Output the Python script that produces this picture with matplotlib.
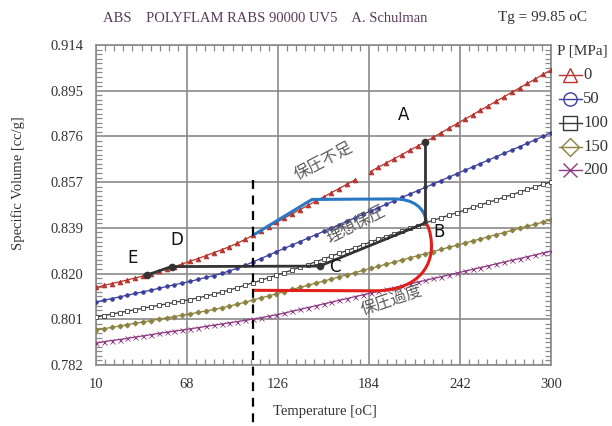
import numpy as np
import matplotlib
matplotlib.use("Agg")
import matplotlib.pyplot as plt
from matplotlib.path import Path
from matplotlib.patches import PathPatch
from matplotlib.lines import Line2D
from matplotlib.ticker import FixedLocator, AutoMinorLocator

# ---------------- data ----------------
temps = list(range(10, 301, 5))

v_p0 = [0.8140, 0.8148, 0.8156, 0.8163, 0.8171, 0.8179, 0.8187, 0.8196, 0.8206, 0.8216,
        0.8226, 0.8237, 0.8248, 0.8259, 0.8271, 0.8283, 0.8295, 0.8308, 0.8322, 0.8338,
        0.8355, 0.8373, 0.8391, 0.8408, 0.8426, 0.8443, 0.8461, 0.8478, 0.8496, 0.8513,
        0.8531, 0.8548, 0.8566, 0.8583, np.nan, 0.8618, 0.8636, 0.8653, 0.8671, 0.8688,
        0.8706, 0.8723, 0.8741, 0.8760, 0.8778, 0.8797, 0.8815, 0.8834, 0.8852, 0.8871,
        0.8889, 0.8908, 0.8926, 0.8945, 0.8963, 0.8982, 0.9000, 0.9019, 0.9037]
v_p50 = [0.8080, 0.8087, 0.8094, 0.8101, 0.8108, 0.8115, 0.8122, 0.8129, 0.8136, 0.8144,
         0.8151, 0.8158, 0.8165, 0.8173, 0.8181, 0.8189, 0.8198, 0.8208, 0.8219, 0.8231,
         0.8245, 0.8259, 0.8273, 0.8287, 0.8301, 0.8315, 0.8329, 0.8343, 0.8357, 0.8371,
         0.8385, 0.8399, 0.8413, 0.8427, 0.8441, 0.8455, 0.8469, 0.8483, 0.8497, 0.8511,
         0.8525, 0.8539, 0.8553, 0.8567, 0.8581, 0.8595, 0.8609, 0.8623, 0.8637, 0.8651,
         0.8665, 0.8679, 0.8693, 0.8707, 0.8721, 0.8735, 0.8749, 0.8763, 0.8779]
v_p100 = [0.8018, 0.8024, 0.8030, 0.8036, 0.8042, 0.8048, 0.8054, 0.8060, 0.8066, 0.8072,
          0.8078, 0.8084, 0.8090, 0.8097, 0.8104, 0.8112, 0.8120, 0.8129, 0.8139, 0.8149,
          0.8159, 0.8169, 0.8180, 0.8190, 0.8201, 0.8212, 0.8223, 0.8234, 0.8246, 0.8257,
          0.8269, 0.8281, 0.8292, 0.8304, 0.8316, 0.8327, 0.8339, 0.8350, 0.8362, 0.8373,
          0.8384, 0.8395, 0.8406, 0.8417, 0.8427, 0.8438, 0.8448, 0.8459, 0.8470, 0.8480,
          0.8491, 0.8501, 0.8512, 0.8522, 0.8533, 0.8544, 0.8554, 0.8565, 0.8575]
v_p150 = [0.7964, 0.7970, 0.7975, 0.7981, 0.7987, 0.7992, 0.7998, 0.8003, 0.8009, 0.8015,
          0.8020, 0.8026, 0.8031, 0.8037, 0.8043, 0.8049, 0.8056, 0.8063, 0.8071, 0.8079,
          0.8088, 0.8097, 0.8105, 0.8114, 0.8123, 0.8132, 0.8140, 0.8149, 0.8158, 0.8166,
          0.8175, 0.8184, 0.8192, 0.8201, 0.8210, 0.8219, 0.8227, 0.8236, 0.8245, 0.8253,
          0.8262, 0.8271, 0.8279, 0.8288, 0.8297, 0.8306, 0.8314, 0.8323, 0.8332, 0.8340,
          0.8349, 0.8358, 0.8366, 0.8375, 0.8384, 0.8393, 0.8401, 0.8410, 0.8419]
v_p200 = [0.7911, 0.7916, 0.7921, 0.7925, 0.7930, 0.7935, 0.7940, 0.7945, 0.7950, 0.7955,
          0.7960, 0.7964, 0.7969, 0.7974, 0.7979, 0.7984, 0.7989, 0.7994, 0.7999, 0.8004,
          0.8009, 0.8015, 0.8021, 0.8027, 0.8034, 0.8042, 0.8049, 0.8057, 0.8064, 0.8072,
          0.8079, 0.8087, 0.8094, 0.8102, 0.8109, 0.8117, 0.8124, 0.8132, 0.8139, 0.8147,
          0.8154, 0.8162, 0.8169, 0.8177, 0.8184, 0.8192, 0.8199, 0.8207, 0.8214, 0.8222,
          0.8229, 0.8237, 0.8244, 0.8252, 0.8259, 0.8267, 0.8274, 0.8282, 0.8289]

pressures = ["0", "50", "100", "150", "200"]
x_ticks = [10, 68, 126, 184, 242, 300]
y_tick_labels = ["0.782", "0.801", "0.820", "0.839", "0.857", "0.876", "0.895", "0.914"]
y_min, y_max = 0.782, 0.914

# process path (holding-pressure annotations)
path_T = {"A": 220.0, "B": 220.0, "C": 152.5, "D": 58.2, "E": 42.4}
path_v = {"A": 0.8741, "B": 0.8406, "C": 0.8228, "D": 0.8226, "E": 0.8191}
dash_T = 110.3
dash_top_v = 0.8583
blue_pts = [(110.3, 0.8356), (147.7, 0.8503), (200.0, 0.8505),
            (212.0, 0.8505), (219.5, 0.8470), (220.5, 0.8410)]
red_pts = [(110.3, 0.8128), (188.0, 0.8126),
           (213.0, 0.8127), (224.5, 0.8215), (223.8, 0.8320),
           (223.3, 0.8372), (221.5, 0.8397), (220.0, 0.8408)]

# ---------------- styling ----------------
serif = ["Liberation Serif", "DejaVu Serif"]
jp = ["Noto Sans CJK JP", "DejaVu Sans"]
colors = ["#b8342e", "#3b3f9c", "#3a3a3a", "#8c8240", "#8e3a82"]
markers = ["^", "o", "s", "D", "x"]
msizes = [3.4, 2.6, 3.4, 2.6, 3.6]
mfill = [True, True, False, True, True]

W, H = 612, 426
fig = plt.figure(figsize=(W / 100, H / 100), dpi=100)
ax = fig.add_axes([96 / W, 1 - 365 / H, 455 / W, 320 / H])

series = [v_p0, v_p50, v_p100, v_p150, v_p200]
for vals, c, m, ms, f in zip(series, colors, markers, msizes, mfill):
    ax.plot(temps, vals, color=c, lw=0.9, marker=m, ms=ms,
            mfc=(c if f else "white"), mec=c, mew=0.6, zorder=3)

ax.set_xlim(10, 300)
ax.set_ylim(y_min, y_max)
ax.xaxis.set_major_locator(FixedLocator(x_ticks))
ax.xaxis.set_minor_locator(AutoMinorLocator(10))
yt = np.linspace(y_min, y_max, len(y_tick_labels))
ax.set_yticks(yt)
ax.set_yticklabels(y_tick_labels)
ax.yaxis.set_minor_locator(AutoMinorLocator(10))
ax.grid(True, which="major", color="#8a8a8a", lw=1.2, zorder=1)
for sp in ax.spines.values():
    sp.set_color("#8a8a8a")
    sp.set_linewidth(1.2)
ax.tick_params(which="both", direction="in", top=True, right=True, colors="#8a8a8a")
ax.tick_params(which="major", length=0, labelcolor="#333333", labelsize=10.5)
ax.tick_params(axis="x", which="major", pad=9.5)
ax.tick_params(axis="y", which="major", pad=9)
ax.tick_params(which="minor", length=4, width=0.9)
for lab in ax.get_xticklabels() + ax.get_yticklabels():
    lab.set_family(serif)

# vertical dashed line (runs past the axes down to the figure bottom)
x_dash_fig = ax.transData.transform((dash_T, dash_top_v))
xd, yd = fig.transFigure.inverted().transform(x_dash_fig)
fig.add_artist(Line2D([xd, xd], [yd, 0.0], color="black", lw=1.6,
                      ls=(0, (4, 3)), zorder=6))

# blue path
bc = [Path.MOVETO, Path.LINETO, Path.LINETO, Path.CURVE4, Path.CURVE4, Path.CURVE4]
ax.add_patch(PathPatch(Path(blue_pts, bc), fill=False, ec="#2a78c4", lw=2.2, zorder=5))
# red path
rc = [Path.MOVETO, Path.LINETO, Path.CURVE4, Path.CURVE4, Path.CURVE4,
      Path.CURVE4, Path.CURVE4, Path.CURVE4]
ax.add_patch(PathPatch(Path(red_pts, rc), fill=False, ec="#e0201c", lw=2.2, zorder=5))

# black process path A-B-C-D-E
order = ["A", "B", "C", "D", "E"]
ax.plot([path_T[k] for k in order], [path_v[k] for k in order],
        color="#333333", lw=2.0, zorder=6)
for k in ["A", "C", "D", "E"]:
    ax.plot(path_T[k], path_v[k], "o", color="#333333", ms=4.5, zorder=7)

letters = {"A": (206.0, 0.8851), "B": (228.5, 0.8369), "C": (162.0, 0.8226),
           "D": (61.5, 0.8336), "E": (33.0, 0.8261)}
for k, (tx, ty) in letters.items():
    ax.text(tx, ty, k, fontsize=12, color="#111111", ha="center", va="center", zorder=8)

ax.text(155.5, 0.8658, "保圧不足", family=jp, fontsize=11.5, color="#5a5a5a",
        rotation=28, ha="center", va="center", zorder=8)
ax.text(176.0, 0.8396, "理想保圧", family=jp, fontsize=11.5, color="#5a5a5a",
        rotation=27, ha="center", va="center", zorder=8)
ax.text(198.5, 0.8083, "保圧過度", family=jp, fontsize=11.5, color="#5a5a5a",
        rotation=19, ha="center", va="center", zorder=8)

# titles and axis labels
fig.text(103 / W, 1 - 18 / H, "ABS    POLYFLAM RABS 90000 UV5    A. Schulman",
         family=serif, fontsize=10.5, color="#5a3a5c", ha="left", va="center")
fig.text(498 / W, 1 - 18 / H, "Tg = 99.85 oC", family=serif, fontsize=11,
         color="#333333", ha="left", va="center")
fig.text(325 / W, 1 - 411 / H, "Temperature [oC]", family=serif, fontsize=10.5,
         color="#333333", ha="center", va="center")
fig.text(18 / W, 1 - 183 / H, "Specific Volume [cc/g]", family=serif, fontsize=10.5,
         color="#333333", ha="center", va="center", rotation=90)

# legend (drawn manually in figure pixels)
fig.text(557 / W, 1 - 51 / H, "P [MPa]", family=serif, fontsize=11,
         color="#333333", ha="left", va="center")
leg_y = [75, 99, 123, 147, 170]
for lab, c, m, yy in zip(pressures, colors, markers, leg_y):
    fy = 1 - yy / H
    fig.add_artist(Line2D([559 / W, 570 / W, 582 / W], [fy, fy, fy], color=c, lw=1.0,
                          marker=m, markevery=[1], ms=9.5, mfc="none", mec=c, mew=1.0))
    fig.text(583 / W, fy, lab, family=serif, fontsize=12, color="#333333",
             ha="left", va="center")

fig.savefig("out.png", dpi=100)
